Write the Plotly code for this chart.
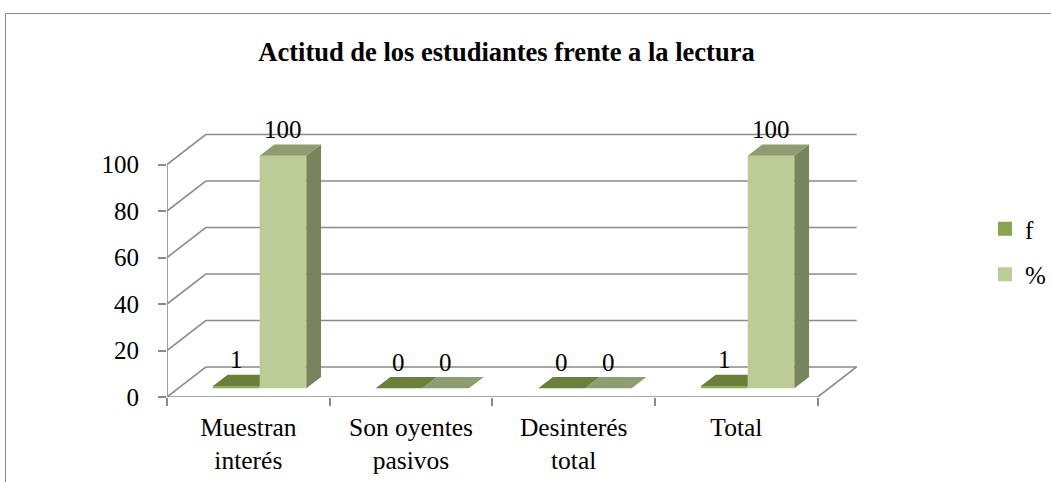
import plotly.graph_objects as go

# ---------------- data ----------------
categories = ["Muestran<br>interés", "Son oyentes<br>pasivos", "Desinterés<br>total", "Total"]
f_values = [1, 0, 0, 1]
pct_values = [100, 0, 0, 100]
series_names = ["f", "%"]
y_ticks = [0, 20, 40, 60, 80, 100]
title_text = "Actitud de los estudiantes frente a la lectura"

# ---------------- style / geometry ----------------
FONT = "'Liberation Serif', 'Times New Roman', Times, serif"
GRID = "#8a8a8a"
DX = 0.2398      # back-wall depth offset (category units)
DY = 12.93       # back-wall depth offset (value units)
BAR_W = 0.287    # bar width in category units
T0, T1 = 0.29, 0.667  # bar front/back as fraction of depth
N = len(categories)

colors = {
    "f": {"front": "#8fab55", "top": "#6b7f3a", "side": "#5d6e33", "legend": "#8aa54f"},
    "%": {"front": "#bccc97", "top": "#8e9d71", "side": "#77845c", "legend": "#bbcd97"},
}

fig = go.Figure()

# ---------------- walls / gridlines ----------------
gx, gy = [], []
for v in y_ticks:
    # back wall line
    gx += [DX, N + DX, None]
    gy += [v + DY, v + DY, None]
    # left wall diagonal
    gx += [0, DX, None]
    gy += [v, v + DY, None]
# front vertical axis
gx += [0, 0, None]
gy += [y_ticks[0], y_ticks[-1], None]
# floor front edge and right edge
gx += [0, N, None, N, N + DX, None]
gy += [0, 0, None, 0, DY, None]
fig.add_trace(go.Scatter(x=gx, y=gy, mode="lines", line=dict(color=GRID, width=1.6),
                         hoverinfo="skip", showlegend=False))


# ---------------- 3D bars ----------------
def faces(x0, x1, v):
    fx, fy, bx, by = T0 * DX, T0 * DY, T1 * DX, T1 * DY
    front = [(x0 + fx, fy), (x1 + fx, fy), (x1 + fx, v + fy), (x0 + fx, v + fy)]
    top = [(x0 + fx, v + fy), (x1 + fx, v + fy), (x1 + bx, v + by), (x0 + bx, v + by)]
    side = [(x1 + fx, fy), (x1 + bx, by), (x1 + bx, v + by), (x1 + fx, v + fy)]
    return {"front": front, "top": top, "side": side}


series = [("f", f_values, -1), ("%", pct_values, 0)]
for name, vals, off in series:
    polys = {"front": ([], []), "top": ([], []), "side": ([], [])}
    for i, v in enumerate(vals):
        c = i + 0.5
        x0 = c + off * BAR_W
        x1 = x0 + BAR_W
        for k, pts in faces(x0, x1, v).items():
            xs, ys = polys[k]
            xs += [p[0] for p in pts] + [pts[0][0], None]
            ys += [p[1] for p in pts] + [pts[0][1], None]
    for k in ["front", "top", "side"]:
        xs, ys = polys[k]
        fig.add_trace(go.Scatter(x=xs, y=ys, mode="lines", fill="toself",
                                 fillcolor=colors[name][k], line=dict(width=0),
                                 hoverinfo="skip", showlegend=False))
    # data labels
    for i, v in enumerate(vals):
        c = i + 0.5
        xc = c + off * BAR_W + BAR_W / 2 + T0 * DX
        fig.add_annotation(x=xc, y=v + T0 * DY, text=str(v), showarrow=False,
                           xanchor="center", yanchor="middle", yshift=26,
                           font=dict(family=FONT, size=25, color="black"))

# legend entries
for gi, name in enumerate(series_names):
    fig.add_trace(go.Scatter(x=[None], y=[None], mode="markers", name=name,
                             legendgroup=name,
                             marker=dict(symbol="square", size=14, color=colors[name]["legend"])))

# ---------------- layout ----------------
L, R, T, B = 167, 191, 132, 85
W = 1051 - L - R
H = 482 - T - B

fig.update_layout(
    width=1051, height=482,
    margin=dict(l=L, r=R, t=T, b=B, autoexpand=False),
    paper_bgcolor="white", plot_bgcolor="white",
    title=dict(text="<b>" + title_text + "</b>", x=506.5 / 1051, xref="container",
               xanchor="center", y=1 - 52 / 482, yref="container", yanchor="middle",
               font=dict(family=FONT, size=26.5, color="black")),
    xaxis=dict(range=[0, 4.26], tickvals=[i + 0.5 for i in range(N)], ticktext=categories,
               ticks="", showgrid=False, zeroline=False, showline=False,
               tickfont=dict(family=FONT, size=25.5, color="black"),
               ticklabelstandoff=12,
               minor=dict(tickvals=list(range(N + 1)), ticks="outside", ticklen=8,
                          tickcolor=GRID, tickwidth=1.6, showgrid=False)),
    yaxis=dict(range=[0, 114], tickvals=y_ticks, ticks="outside", ticklen=8,
               tickcolor=GRID, tickwidth=1.6, showgrid=False, zeroline=False,
               showline=False, ticklabelstandoff=14,
               tickfont=dict(family=FONT, size=25, color="black")),
    legend=dict(x=(985 - L) / W, xanchor="left", y=(397 - 206) / H, yanchor="top",
                font=dict(family=FONT, size=25, color="black"),
                traceorder="grouped", tracegroupgap=10, bgcolor="rgba(0,0,0,0)"),
    shapes=[dict(type="rect", xref="paper", yref="paper",
                 x0=(5.5 - L) / W, x1=(1070 - L) / W,
                 y0=(397 - 500) / H, y1=(397 - 13.5) / H,
                 line=dict(color="#8a8a8a", width=1), fillcolor="rgba(0,0,0,0)", layer="below")],
)

fig.write_html("out.html", config={"displayModeBar": False},
               post_script="document.body.style.margin='0';document.body.style.overflow='hidden';")
